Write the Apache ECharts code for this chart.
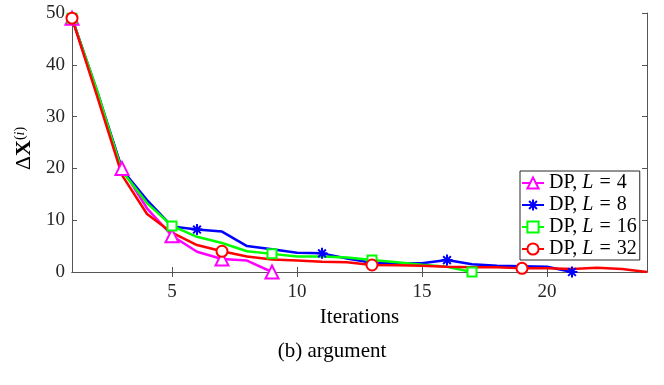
<!DOCTYPE html>
<html>
<head>
<meta charset="UTF-8">
<script src="https://cdn.jsdelivr.net/npm/echarts@6/dist/echarts.min.js"></script>
</head>
<body style="margin:0;background:#fff;">
<div id="main" style="width:664px;height:385px;"></div>
<script type="text/javascript">
// iteration index (x) and Delta X values
var iters = [1,2,3,4,5,6,7,8,9,10,11,12,13,14,15,16,17,18,19,20,21,22,23,24];
var dpL4  = [49, 34.5, 20, 12.3, 7.0, 3.9, 2.5, 2.2, 0];
var dpL8  = [49, 35, 19.8, 13.9, 8.8, 8.2, 7.8, 5.0, 4.4, 3.7, 3.6, 2.6, 1.8, 1.7, 1.7, 2.3, 1.5, 1.2, 1.1, 1.0, 0];
var dpL16 = [49, 35, 19.5, 13.3, 8.9, 6.8, 5.6, 4.0, 3.5, 3.0, 3.0, 2.8, 2.3, 1.9, 1.4, 1.0, 0];
var dpL32 = [49, 34, 18.7, 11.2, 7.6, 5.2, 4.0, 3.0, 2.4, 2.2, 2.0, 1.9, 1.35, 1.3, 1.2, 1.0, 0.9, 0.9, 0.7, 0.7, 0.6, 0.8, 0.6, 0];
// which iterations carry a marker
var markL4  = [1,3,5,7,9];
var markL8  = [1,6,11,16,21];
var markL16 = [1,5,9,13,17];
var markL32 = [1,7,13,19];
var names = ['DP, L = 4','DP, L = 8','DP, L = 16','DP, L = 32'];
var xTicks = [5,10,15,20];
var yTicks = [0,10,20,30,40,50];

var font = 'Liberation Serif';
var axisCol = '#555';
var star = 'path://M5,0L5,10M0,5L10,5M1.5,1.5L8.5,8.5M1.5,8.5L8.5,1.5';

function pts(vals, marks) {
    var out = [];
    for (var i = 0; i < vals.length; i++) {
        var it = {value: [iters[i], vals[i]]};
        if (marks.indexOf(iters[i]) === -1) it.symbol = 'none';
        out.push(it);
    }
    return out;
}

function mkSeries(name, vals, marks, col, sym, size) {
    return {
        name: name,
        type: 'line',
        data: pts(vals, marks),
        symbol: sym,
        symbolSize: size,
        showAllSymbol: true,
        lineStyle: {color: col, width: 2.5},
        itemStyle: {color: col, borderColor: col, borderWidth: 2},
        animation: false
    };
}

var myChart = echarts.init(document.getElementById('main'));
var option = {
    title: {
        text: '(b) argument',
        left: 'center',
        top: 336,
        textStyle: {fontFamily: font, fontSize: 21, fontWeight: 'normal', color: '#000'}
    },
    grid: {left: 72, right: 17, top: 13, bottom: 113},
    legend: {
        orient: 'vertical',
        left: 520,
        top: 171,
        padding: [2, 3, 1, 1],
        itemGap: 2,
        itemWidth: 22,
        itemHeight: 14,
        backgroundColor: '#fff',
        borderColor: '#262626',
        borderWidth: 1,
        data: names,
        formatter: function (n) {
            var p = n.split(', L = ');
            return '{n|DP, }{i|L}{e|=}{n|' + p[1] + '}';
        },
        textStyle: {
            fontFamily: font, fontSize: 20, color: '#000',
            rich: {
                n: {fontFamily: font, fontSize: 20, color: '#000'},
                i: {fontFamily: font, fontSize: 20, fontStyle: 'italic', color: '#000'},
                e: {fontFamily: font, fontSize: 20, color: '#000', padding: [0, 6, 0, 6]}
            }
        }
    },
    xAxis: [{
        type: 'value',
        min: 1,
        max: 24,
        name: 'Iterations',
        nameLocation: 'middle',
        nameGap: 35,
        nameTextStyle: {fontFamily: font, fontSize: 21, color: '#000'},
        axisLine: {lineStyle: {color: axisCol}},
        axisTick: {inside: true, length: 5, customValues: xTicks, lineStyle: {color: axisCol}},
        axisLabel: {customValues: xTicks, margin: 11, fontFamily: font, fontSize: 19, color: '#262626'},
        splitLine: {show: false}
    }, {
        type: 'value',
        position: 'top',
        min: 1,
        max: 24,
        axisLine: {show: true, lineStyle: {color: axisCol}},
        axisTick: {show: true, inside: true, length: 5, customValues: xTicks, lineStyle: {color: axisCol}},
        axisLabel: {show: false, customValues: xTicks},
        splitLine: {show: false}
    }],
    yAxis: [{
        type: 'value',
        min: 0,
        max: 50,
        interval: 10,
        name: '{d|Δ}{x|X}{s|(}{si|i}{s|)}',
        nameLocation: 'middle',
        nameRotate: 90,
        nameGap: 26,
        nameTextStyle: {
            color: '#000',
            padding: [0, 12, 0, 0],
            rich: {
                d: {fontFamily: font, fontSize: 22, color: '#000', verticalAlign: 'bottom'},
                x: {fontFamily: font, fontSize: 22, fontWeight: 'bold', color: '#000', verticalAlign: 'bottom'},
                s: {fontFamily: font, fontSize: 14, color: '#000', verticalAlign: 'top'},
                si: {fontFamily: font, fontSize: 14, fontStyle: 'italic', color: '#000', verticalAlign: 'top'}
            }
        },
        axisLine: {show: true, lineStyle: {color: axisCol}},
        axisTick: {inside: true, length: 5, customValues: yTicks, lineStyle: {color: axisCol}},
        axisLabel: {margin: 7, fontFamily: font, fontSize: 19, color: '#262626'},
        splitLine: {show: false}
    }, {
        type: 'value',
        position: 'right',
        min: 0,
        max: 50,
        interval: 10,
        axisLine: {show: true, lineStyle: {color: axisCol}},
        axisTick: {show: true, inside: true, length: 5, lineStyle: {color: axisCol}},
        axisLabel: {show: false},
        splitLine: {show: false}
    }],
    series: [
        mkSeries(names[0], dpL4, markL4, '#ff00ff', 'emptyTriangle', 13),
        mkSeries(names[1], dpL8, markL8, '#0000ff', star, 11),
        mkSeries(names[2], dpL16, markL16, '#00ff00', 'emptyRect', 9),
        mkSeries(names[3], dpL32, markL32, '#ff0000', 'emptyCircle', 11)
    ]
};
myChart.setOption(option);
</script>
</body>
</html>
